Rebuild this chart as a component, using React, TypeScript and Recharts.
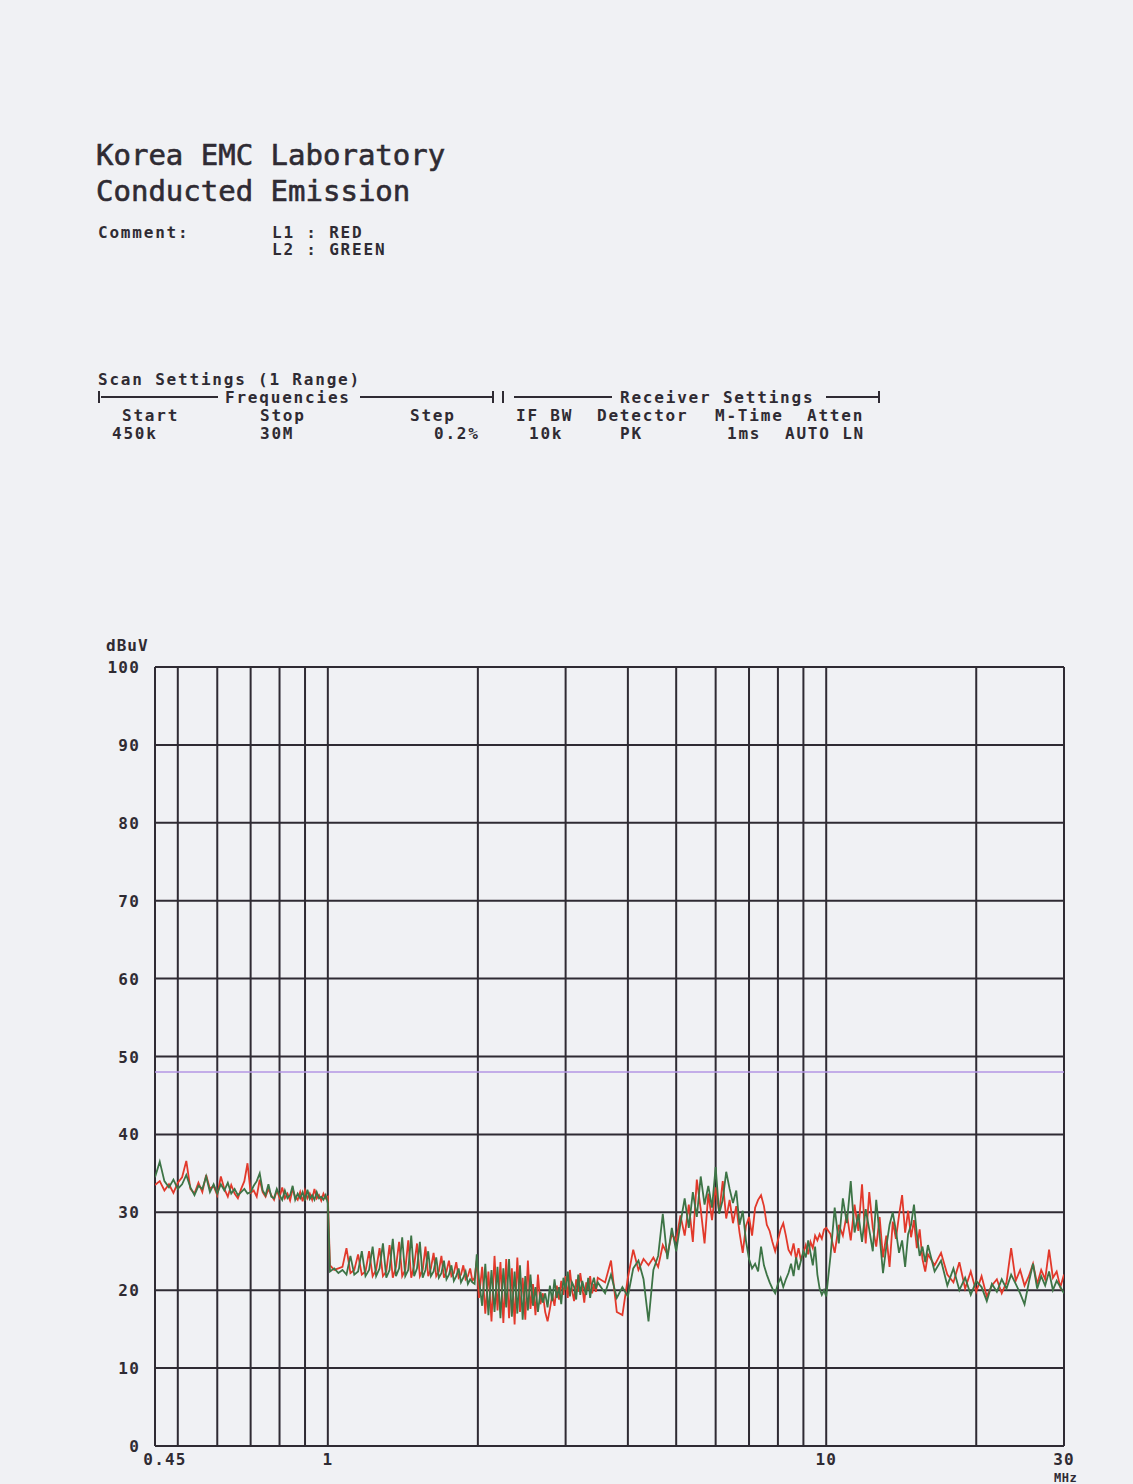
import { LineChart, Line, XAxis, YAxis, CartesianGrid, ReferenceLine } from "recharts";

// plotter style: monospace ink on a slightly blue paper
const MONO = "'DejaVu Sans Mono', monospace";
const INK = "#2f2b33";
const PAPER = "#f0f1f4";
const RED = "#e2392b";
const GREEN = "#3d7446";
const LIMIT = "#b596e4";

// 0.45 - 1 MHz
const freqsA = [0.45, 0.46, 0.47, 0.48, 0.49, 0.5, 0.51, 0.52, 0.53, 0.54, 0.55, 0.56, 0.57, 0.58, 0.59, 0.6, 0.61, 0.62, 0.63, 0.64, 0.65, 0.66, 0.67, 0.68, 0.69, 0.7, 0.71, 0.72, 0.73, 0.74, 0.75, 0.76, 0.77, 0.78, 0.79, 0.8, 0.81, 0.82, 0.83, 0.84, 0.85, 0.86, 0.87, 0.88, 0.89, 0.9, 0.91, 0.92, 0.93, 0.94, 0.95, 0.96, 0.97, 0.98, 0.99, 1.0];
const l1A = [33.5, 34.0, 32.8, 33.6, 32.5, 33.8, 34.5, 36.6, 33.0, 32.4, 33.8, 32.6, 34.8, 33.0, 33.4, 32.2, 34.6, 33.0, 32.0, 33.5, 32.4, 31.8, 33.0, 34.0, 36.3, 32.5, 32.8, 32.0, 34.2, 32.6, 32.0, 33.0, 32.2, 31.6, 32.8, 31.9, 33.2, 31.8, 32.4, 31.5, 33.0, 32.0, 31.6, 32.6, 31.4, 32.8, 31.8, 32.4, 31.6, 33.0, 31.8, 32.2, 31.5, 32.4, 31.8, 32.0];
const l2A = [34.5, 36.5, 34.0, 33.2, 34.2, 33.0, 33.6, 34.8, 33.2, 32.2, 33.4, 33.0, 34.6, 32.6, 33.6, 32.4, 33.6, 32.8, 33.8, 32.4, 33.0, 32.2, 32.6, 33.0, 32.4, 32.6, 33.4, 34.0, 35.0, 32.8, 32.2, 33.6, 32.0, 31.8, 33.0, 32.2, 31.6, 32.8, 31.8, 32.2, 33.4, 31.6, 32.4, 31.8, 32.6, 31.5, 32.9, 31.7, 32.2, 31.6, 32.6, 31.8, 32.0, 31.6, 32.2, 31.2];

// 1 - 2 MHz
const freqsB = [1.01, 1.03, 1.05, 1.07, 1.09, 1.11, 1.13, 1.15, 1.17, 1.19, 1.21, 1.23, 1.25, 1.27, 1.29, 1.31, 1.33, 1.35, 1.37, 1.39, 1.41, 1.43, 1.45, 1.47, 1.49, 1.51, 1.53, 1.55, 1.57, 1.59, 1.61, 1.63, 1.65, 1.67, 1.69, 1.71, 1.73, 1.75, 1.77, 1.79, 1.81, 1.83, 1.85, 1.87, 1.89, 1.91, 1.93, 1.95, 1.97, 1.99];
const l1B = [23.2, 22.6, 22.8, 23.0, 25.4, 22.2, 22.6, 24.6, 22.0, 22.4, 25.0, 21.8, 22.6, 25.4, 21.8, 22.4, 25.8, 21.6, 23.0, 26.2, 21.8, 22.6, 26.4, 21.6, 23.2, 26.0, 21.8, 22.6, 25.6, 21.8, 22.8, 24.8, 21.8, 22.4, 24.4, 21.6, 22.4, 23.8, 21.8, 22.2, 23.6, 21.6, 22.0, 23.2, 21.4, 21.8, 22.8, 21.2, 21.6, 23.8];
const l2B = [22.4, 22.8, 22.2, 22.6, 22.0, 24.4, 22.0, 22.4, 25.0, 21.8, 22.6, 25.6, 21.8, 22.8, 26.0, 21.6, 22.6, 26.6, 21.8, 22.8, 26.8, 21.8, 22.6, 27.0, 21.8, 22.8, 26.2, 21.6, 22.6, 25.0, 21.8, 22.4, 24.2, 21.6, 22.2, 23.8, 21.4, 22.0, 23.2, 21.2, 21.8, 22.8, 21.0, 21.6, 22.4, 20.8, 21.4, 21.0, 20.8, 24.6];

// 2 - 3.5 MHz
const freqsC = [2.01, 2.04, 2.07, 2.1, 2.13, 2.16, 2.19, 2.22, 2.25, 2.28, 2.31, 2.34, 2.37, 2.4, 2.43, 2.46, 2.49, 2.52, 2.55, 2.58, 2.61, 2.64, 2.67, 2.7, 2.73, 2.76, 2.79, 2.82, 2.85, 2.88, 2.91, 2.94, 2.97, 3.0, 3.03, 3.06, 3.09, 3.12, 3.15, 3.18, 3.21, 3.24, 3.27, 3.3, 3.33, 3.36, 3.39, 3.42, 3.45, 3.48];
const l1C = [19.0, 23.0, 17.0, 22.4, 16.0, 24.4, 17.4, 23.6, 15.8, 24.0, 16.4, 22.8, 15.6, 24.2, 17.2, 21.6, 16.2, 23.8, 17.6, 20.8, 16.8, 22.0, 18.2, 19.6, 17.2, 16.0, 17.6, 19.4, 18.0, 20.6, 18.8, 21.2, 19.4, 21.8, 19.0, 22.6, 20.0, 18.6, 21.4, 19.8, 22.2, 20.4, 18.4, 21.0, 20.0, 21.8, 19.6, 20.8, 19.8, 21.6];
const l2C = [21.4, 18.0, 23.4, 16.8, 22.6, 17.2, 23.0, 16.4, 22.8, 17.8, 24.0, 16.6, 22.4, 17.0, 23.2, 16.2, 21.8, 17.4, 22.0, 18.0, 20.4, 17.2, 19.8, 18.4, 19.6, 17.8, 20.6, 18.6, 21.4, 19.0, 20.4, 18.2, 21.6, 20.0, 22.4, 19.2, 21.0, 20.4, 18.8, 22.0, 19.4, 21.2, 20.2, 19.4, 21.6, 19.0, 20.8, 21.6, 20.2, 21.0];

// 3.6 - 10 MHz
const freqsD = [3.6, 3.7, 3.8, 3.9, 4.0, 4.1, 4.2, 4.3, 4.4, 4.5, 4.6, 4.7, 4.8, 4.9, 5.0, 5.1, 5.2, 5.3, 5.4, 5.5, 5.6, 5.7, 5.8, 5.9, 6.0, 6.1, 6.2, 6.3, 6.4, 6.5, 6.6, 6.7, 6.8, 6.9, 7.0, 7.1, 7.2, 7.3, 7.4, 7.5, 7.6, 7.7, 7.8, 7.9, 8.0, 8.1, 8.2, 8.3, 8.4, 8.5, 8.6, 8.7, 8.8, 8.9, 9.0, 9.1, 9.2, 9.3, 9.4, 9.5, 9.6, 9.7, 9.8, 9.9, 10.0];
const l1D = [21.0, 23.8, 17.2, 16.8, 21.6, 25.2, 22.6, 24.0, 23.2, 24.2, 23.0, 25.8, 24.6, 27.2, 26.4, 29.6, 27.0, 31.0, 26.2, 34.2, 30.4, 26.0, 32.4, 29.0, 33.2, 30.0, 34.0, 29.2, 31.6, 28.6, 30.8, 27.4, 24.8, 28.2, 29.4, 27.0, 30.6, 31.6, 32.2, 30.8, 28.4, 27.6, 26.2, 25.0, 26.4, 27.8, 28.6, 27.0, 25.2, 24.6, 26.0, 24.0, 25.4, 23.8, 24.8, 25.8, 24.6, 26.2, 25.4, 27.0, 26.4, 27.2, 26.6, 27.8, 28.0];
const l2D = [19.6, 22.0, 19.0, 20.4, 19.2, 22.8, 23.8, 21.4, 16.0, 22.6, 24.4, 29.8, 24.0, 28.0, 25.0, 28.6, 31.8, 28.0, 32.6, 29.4, 34.6, 31.0, 33.4, 30.6, 35.8, 29.8, 31.6, 35.2, 33.0, 31.2, 32.8, 28.4, 30.2, 26.4, 24.0, 22.8, 23.4, 22.4, 25.6, 23.2, 22.0, 21.0, 20.2, 19.6, 20.8, 21.6, 20.4, 21.4, 22.2, 23.4, 21.8, 24.2, 22.6, 23.8, 25.0, 24.2, 26.4, 24.8, 23.2, 25.6, 22.0, 20.2, 19.4, 20.0, 19.2];

// 10 - 16 MHz
const freqsE = [10.2, 10.4, 10.6, 10.8, 11, 11.2, 11.4, 11.6, 11.8, 12, 12.2, 12.4, 12.6, 12.8, 13, 13.2, 13.4, 13.6, 13.8, 14, 14.2, 14.4, 14.6, 14.8, 15, 15.2, 15.4, 15.6, 15.8, 16];
const l1E = [27.2, 24.8, 28.4, 27.0, 29.8, 26.4, 31.0, 27.6, 33.6, 26.0, 32.6, 28.0, 25.6, 29.4, 24.2, 27.0, 23.0, 28.8, 26.6, 29.6, 32.2, 27.4, 30.2, 26.8, 29.0, 25.4, 27.8, 24.0, 22.4, 24.6];
const l2E = [24.4, 30.6, 26.0, 31.8, 28.6, 34.0, 27.4, 29.8, 26.2, 30.4, 27.8, 25.0, 31.6, 27.0, 22.2, 25.6, 28.4, 30.0, 27.6, 24.8, 26.4, 23.0, 27.2, 28.4, 31.0, 27.2, 24.4, 25.6, 23.6, 25.8];

// 16.5 - 30 MHz
const freqsF = [16.5, 17, 17.5, 18, 18.5, 19, 19.5, 20, 20.5, 21, 21.5, 22, 22.5, 23, 23.5, 24, 24.5, 25, 25.5, 26, 26.5, 27, 27.5, 28, 28.5, 29, 29.5, 30];
const l1F = [23.2, 24.8, 22.0, 21.0, 23.6, 20.2, 22.4, 19.8, 21.8, 19.2, 20.6, 21.4, 19.6, 21.0, 25.4, 21.2, 22.6, 20.6, 21.8, 23.4, 20.8, 22.6, 21.4, 25.2, 21.6, 22.4, 20.4, 22.0];
const l2F = [22.4, 23.8, 20.6, 22.8, 20.0, 21.6, 19.4, 21.2, 20.4, 18.6, 20.8, 19.8, 21.4, 20.2, 22.0, 20.8, 19.6, 18.2, 21.0, 23.4, 20.2, 21.8, 20.6, 22.4, 20.0, 21.2, 20.4, 19.6];

const limitLevel = 48;
const gridFreqs = [0.45, 0.5, 0.6, 0.7, 0.8, 0.9, 1, 2, 3, 4, 5, 6, 7, 8, 9, 10, 20, 30];
const xLabels: Record<number, string> = { 0.45: "0.45", 1: "1", 10: "10", 30: "30" };
const yTicks = [0, 10, 20, 30, 40, 50, 60, 70, 80, 90, 100];

const freqs = [...freqsA, ...freqsB, ...freqsC, ...freqsD, ...freqsE, ...freqsF];
const l1 = [...l1A, ...l1B, ...l1C, ...l1D, ...l1E, ...l1F];
const l2 = [...l2A, ...l2B, ...l2C, ...l2D, ...l2E, ...l2F];
const data = freqs.map((f, i) => ({ f, l1: l1[i], l2: l2[i] }));

const small = { fontSize: 16, fontWeight: 700, letterSpacing: 1.8 } as const;

function XTick(props: any) {
  const { x, y, payload } = props;
  const label = xLabels[payload.value];
  if (!label) return <g />;
  const dx = payload.value === 0.45 ? 10 : 0;
  return (
    <text x={x + dx} y={y + 19} textAnchor="middle" fill={INK} fontFamily={MONO} {...small} letterSpacing={1.2}>
      {label}
    </text>
  );
}

function YTick(props: any) {
  const { x, y, payload } = props;
  return (
    <text x={x - 15} y={y + 6} textAnchor="end" fill={INK} fontFamily={MONO} {...small} letterSpacing={1.2}>
      {payload.value}
    </text>
  );
}

function Header() {
  return (
    <svg width={1133} height={470} style={{ position: "absolute", left: 0, top: 0 }}>
      <g fill={INK} fontFamily={MONO}>
        <g fontSize={29} stroke={INK} strokeWidth={0.6}>
          <text x={96} y={165}>Korea EMC Laboratory</text>
          <text x={96} y={201}>Conducted Emission</text>
        </g>
        <g {...small}>
          <text x={98} y={238}>Comment:</text>
          <text x={272} y={238}>L1 : RED</text>
          <text x={272} y={255}>L2 : GREEN</text>
          <text x={98} y={385}>Scan Settings (1 Range)</text>
          <text x={225} y={403}>Frequencies</text>
          <text x={620} y={403}>Receiver Settings</text>
          <text x={122} y={421}>Start</text>
          <text x={260} y={421}>Stop</text>
          <text x={410} y={421}>Step</text>
          <text x={516} y={421}>IF BW</text>
          <text x={597} y={421}>Detector</text>
          <text x={715} y={421}>M-Time</text>
          <text x={807} y={421}>Atten</text>
          <text x={112} y={439}>450k</text>
          <text x={260} y={439}>30M</text>
          <text x={434} y={439}>0.2%</text>
          <text x={529} y={439}>10k</text>
          <text x={620} y={439}>PK</text>
          <text x={727} y={439}>1ms</text>
          <text x={785} y={439}>AUTO LN</text>
        </g>
      </g>
      <g stroke={INK} strokeWidth={2}>
        <line x1={99} y1={391} x2={99} y2={403} />
        <line x1={101} y1={397} x2={218} y2={397} />
        <line x1={360} y1={397} x2={492} y2={397} />
        <line x1={493} y1={391} x2={493} y2={403} />
        <line x1={503} y1={391} x2={503} y2={403} />
        <line x1={514} y1={397} x2={612} y2={397} />
        <line x1={826} y1={397} x2={878} y2={397} />
        <line x1={879} y1={391} x2={879} y2={403} />
      </g>
    </svg>
  );
}

export default function App() {
  return (
    <div style={{ position: "absolute", left: 0, top: 0, width: 1133, height: 1484, background: PAPER, overflow: "hidden" }}>
      <div style={{ position: "absolute", left: 0, top: 0 }}>
        <LineChart width={1133} height={1484} data={data} margin={{ top: 667, right: 69, bottom: 8, left: 95 }}>
          <CartesianGrid stroke={INK} strokeWidth={2} />
          <XAxis
            dataKey="f"
            type="number"
            scale="log"
            domain={[0.45, 30]}
            ticks={gridFreqs}
            allowDataOverflow
            axisLine={false}
            tickLine={false}
            tickSize={0}
            tickMargin={0}
            height={30}
            interval={0}
            tick={<XTick />}
          />
          <YAxis
            type="number"
            domain={[0, 100]}
            ticks={yTicks}
            axisLine={false}
            tickLine={false}
            tickSize={0}
            tickMargin={0}
            width={60}
            interval={0}
            tick={<YTick />}
          />
          <ReferenceLine y={limitLevel} stroke={LIMIT} strokeWidth={1.5} ifOverflow="hidden" />
          <Line type="linear" dataKey="l1" stroke={RED} strokeWidth={1.8} dot={false} isAnimationActive={false} />
          <Line type="linear" dataKey="l2" stroke={GREEN} strokeWidth={1.8} dot={false} isAnimationActive={false} />
        </LineChart>
      </div>
      <Header />
      <svg width={1133} height={1484} style={{ position: "absolute", left: 0, top: 0, pointerEvents: "none" }}>
        <g fill={INK} fontFamily={MONO} {...small}>
          <text x={106} y={651} letterSpacing={1}>dBuV</text>
          <text x={1054} y={1482} fontSize={12} letterSpacing={0.5}>MHz</text>
        </g>
      </svg>
    </div>
  );
}
